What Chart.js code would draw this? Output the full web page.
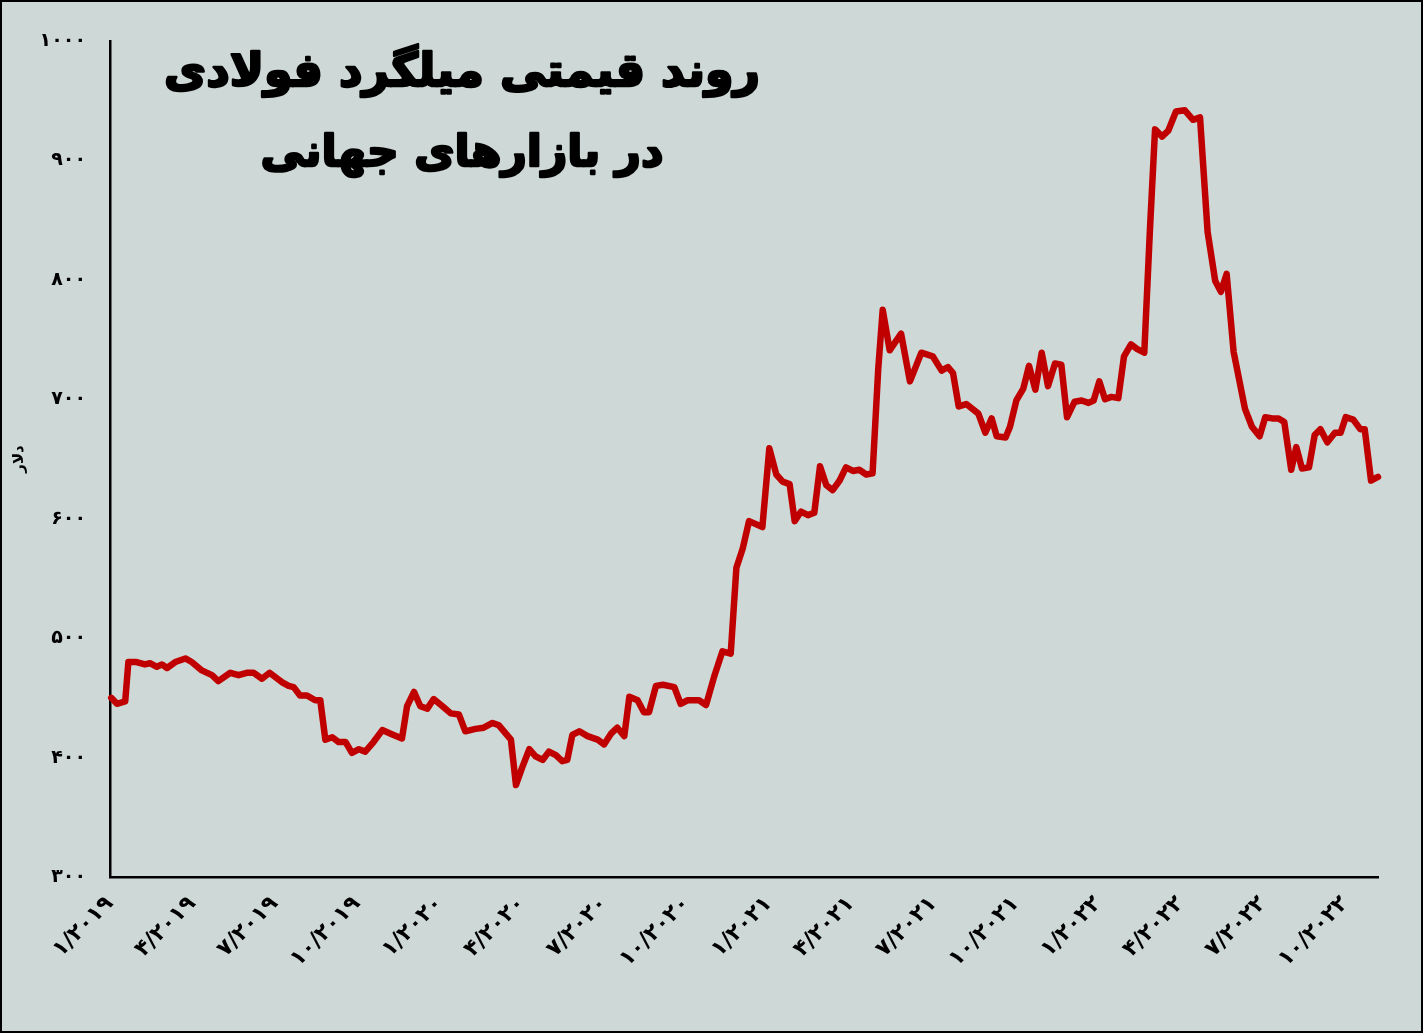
<!DOCTYPE html>
<html lang="fa">
<head>
<meta charset="UTF-8">
<title>روند قیمتی میلگرد فولادی</title>
<script src="https://cdn.jsdelivr.net/npm/chart.js@4.4.1/dist/chart.umd.min.js"></script>
<style>
    body { margin: 0; background: #ced8d6; }
    #box { width: 1423px; height: 1033px; border: 2px solid #000; box-sizing: border-box; background: #ced8d6; }
    canvas { display: block; }
</style>
</head>
<body>
<div id="box">
    <canvas id="myChart" width="1419" height="1029"></canvas>
</div>
<script>
    // week index counted from the start of 2019
    const weeks = [0.2,1.1,2.4,2.9,4.2,5.5,6.3,7.4,8.2,9.0,
        10.3,11.9,12.9,14.5,16.1,17.1,19.0,20.3,21.6,22.7,
        24.0,25.2,27.2,28.2,29.0,30.0,31.1,32.4,33.2,34.0,
        35.1,36.1,37.2,38.2,39.3,40.3,41.6,43.0,44.3,46.1,
        46.9,48.0,49.0,50.1,51.1,52.5,53.8,55.1,56.1,57.7,
        59.0,60.4,61.4,62.5,63.3,64.1,65.1,66.2,67.2,68.3,
        69.3,70.4,71.4,72.2,73.0,74.1,75.4,77.0,78.0,79.1,
        80.1,81.2,82.0,83.3,84.3,85.1,86.2,87.3,89.1,90.1,
        91.2,93.0,94.1,95.4,96.7,98.0,98.9,99.9,100.9,103.0,
        104.1,105.2,106.2,107.3,108.1,109.1,110.2,111.2,112.1,113.1,
        114.1,115.2,116.2,117.3,118.3,119.4,120.4,121.3,122.0,123.1,
        124.9,126.3,128.1,129.9,131.3,132.3,133.1,134.0,135.2,137.1,
        138.2,139.2,140.0,141.4,142.1,143.1,144.2,145.1,146.1,147.1,
        148.1,149.2,150.2,151.1,152.3,153.4,154.5,155.3,156.2,157.1,
        158.1,159.2,160.1,161.2,162.2,163.3,164.2,165.0,166.1,167.1,
        168.3,169.7,171.0,172.1,173.3,174.5,175.4,176.3,177.4,179.2,
        180.3,181.5,182.4,183.5,184.5,185.4,186.5,187.3,188.2,189.3,
        190.2,191.1,192.2,193.4,194.3,195.1,196.3,197.4,198.1,199.1,
        200.2];

    // price, dollars per ton
    const prices = [450,445,447,480,480,478,479,476,478,475,
        480,483,480,473,469,464,471,469,471,471,
        466,471,463,460,459,452,452,448,448,415,
        417,413,413,404,407,405,413,423,420,416,
        443,455,443,441,449,443,437,436,422,424,
        425,429,427,420,415,377,392,407,401,398,
        405,402,397,398,419,422,418,415,411,420,
        425,418,451,448,438,438,460,461,459,445,
        448,448,444,468,489,487,559,575,598,593,
        659,637,631,629,598,606,603,605,644,628,
        624,632,643,640,641,637,638,726,775,741,
        755,715,739,736,724,727,722,694,696,688,
        672,684,669,668,677,699,709,728,708,739,
        711,730,729,685,698,699,697,699,715,700,
        702,701,736,746,742,739,843,926,920,925,
        941,942,934,936,840,799,790,805,740,692,
        677,669,685,684,684,681,641,660,642,643,
        670,675,664,672,672,685,683,675,675,632,
        635];

    const quarterLabels = ['۱/۲۰۱۹','۴/۲۰۱۹','۷/۲۰۱۹','۱۰/۲۰۱۹',
        '۱/۲۰۲۰','۴/۲۰۲۰','۷/۲۰۲۰','۱۰/۲۰۲۰',
        '۱/۲۰۲۱','۴/۲۰۲۱','۷/۲۰۲۱','۱۰/۲۰۲۱',
        '۱/۲۰۲۲','۴/۲۰۲۲','۷/۲۰۲۲','۱۰/۲۰۲۲'];
    const weeksPerQuarter = 13;

    const yTicks = [300, 400, 500, 600, 700, 800, 900, 1000];
    const yTickLabels = ['۳۰۰','۴۰۰','۵۰۰','۶۰۰','۷۰۰','۸۰۰','۹۰۰','۱۰۰۰'];

    const titleLines = ['روند قیمتی میلگرد فولادی', 'در بازارهای جهانی'];
    const yTitle = 'دلار';

    const FONT = '"DejaVu Sans", sans-serif';

    // title drawn inside the plot, top left (stroked too, to look heavier)
    const titlePlugin = {
        id: 'insideTitle',
        afterDraw: function (chart) {
            const c = chart.ctx;
            c.save();
            c.fillStyle = '#000';
            c.strokeStyle = '#000';
            c.lineWidth = 2.5;
            c.lineJoin = 'round';
            c.textAlign = 'center';
            c.textBaseline = 'middle';
            c.font = 'bold 46px ' + FONT;
            c.fillText(titleLines[0], 460, 72);
            c.strokeText(titleLines[0], 460, 72);
            c.font = 'bold 44px ' + FONT;
            c.fillText(titleLines[1], 460, 153);
            c.strokeText(titleLines[1], 460, 153);
            c.restore();
        }
    };

    const ctx = document.getElementById('myChart').getContext('2d');
    const myChart = new Chart(ctx, {
        type: 'line',
        data: {
            datasets: [{
                data: weeks.map(function (w, i) { return { x: w, y: prices[i] }; }),
                borderColor: '#c00000',
                borderWidth: 6.5,
                borderJoinStyle: 'round',
                borderCapStyle: 'round',
                pointRadius: 0,
                tension: 0,
                clip: false
            }]
        },
        options: {
            responsive: false,
            animation: false,
            layout: { padding: { top: 39, right: 43, left: 0, bottom: 0 } },
            plugins: {
                legend: { display: false },
                tooltip: { enabled: false }
            },
            scales: {
                x: {
                    type: 'linear',
                    min: 0,
                    max: weeks[weeks.length - 1],
                    grid: { display: false, drawTicks: false },
                    border: { display: true, color: '#000', width: 2.5 },
                    afterBuildTicks: function (scale) {
                        scale.ticks = quarterLabels.map(function (l, i) { return { value: i * weeksPerQuarter }; });
                    },
                    afterFit: function (scale) { scale.height = 154; },
                    ticks: {
                        autoSkip: false,
                        minRotation: 45,
                        maxRotation: 45,
                        padding: 14,
                        color: '#000',
                        font: { family: FONT, size: 22, weight: 'bold' },
                        callback: function (v) { return quarterLabels[Math.round(v / weeksPerQuarter)]; }
                    }
                },
                y: {
                    min: 300,
                    max: 1000,
                    grid: { display: false, drawTicks: false },
                    border: { display: true, color: '#000', width: 2.5 },
                    afterBuildTicks: function (scale) {
                        scale.ticks = yTicks.map(function (v) { return { value: v }; });
                    },
                    afterFit: function (scale) { scale.width = 108; },
                    title: {
                        display: true,
                        text: yTitle,
                        color: '#000',
                        padding: { top: 8, bottom: 0 },
                        font: { family: FONT, size: 15, weight: 'bold' }
                    },
                    ticks: {
                        padding: 24,
                        color: '#000',
                        font: { family: FONT, size: 19, weight: 'bold' },
                        callback: function (v) { return yTickLabels[yTicks.indexOf(v)]; }
                    }
                }
            }
        },
        plugins: [titlePlugin]
    });
</script>
</body>
</html>
